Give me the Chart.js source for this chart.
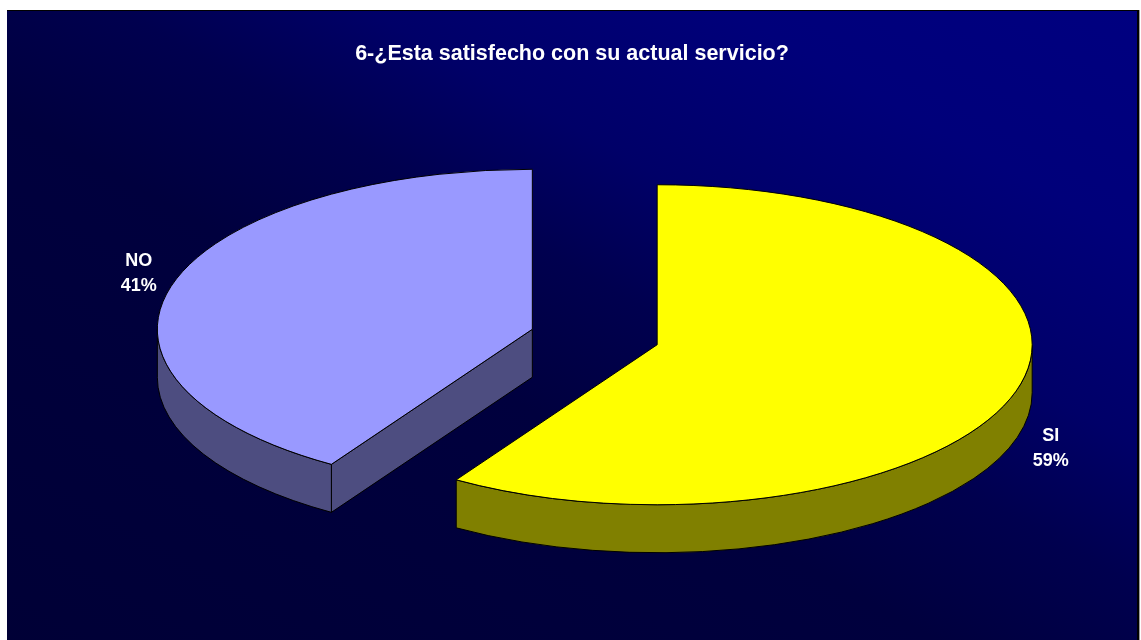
<!DOCTYPE html>
<html>
<head>
<meta charset="utf-8">
<title>Satisfacción con el servicio</title>
<script src="https://cdn.jsdelivr.net/npm/chart.js@4.4.0/dist/chart.umd.min.js"></script>
<style>
  html, body { margin: 0; padding: 0; background: #fff; overflow: hidden; }
  #frame {
    position: absolute;
    left: 7px;
    top: 10px;
    width: 1130px;
    height: 640px;
    border-top: 1px solid #000;
    border-right: 2px solid #000;
    box-shadow: 1px 0 0 #9a9a9a;
    background: linear-gradient(to bottom left,
      #000080 0%, #00007a 18%, #000068 34%, #00004f 45%, #00003e 58%, #000036 100%);
  }
</style>
</head>
<body>
<div id="frame"><canvas id="chart"></canvas></div>
<script>
// Survey answers
const labels = ['SI', 'NO'];
const values = [59, 41];
const topColors = ['#ffff00', '#9999ff'];
const sideColors = ['#808000', '#4d4d80'];

// Where the tilted pie sits on the canvas
const PIE = { cx: 587.75, cy: 326, rx: 375, ry: 160, depth: 48, explode: 65 };

function frontRanges(a, b) {
  // parts of [a, b] on the near half of the ellipse (sin > 0)
  const out = [];
  for (const base of [0, 2 * Math.PI]) {
    const lo = Math.max(a, base), hi = Math.min(b, base + Math.PI);
    if (hi > lo) out.push([lo, hi]);
  }
  return out;
}

const pie3d = {
  id: 'pie3d',
  beforeDatasetsDraw(chart) {
    const ctx = chart.ctx;
    const arcs = chart.getDatasetMeta(0).data;
    const ds = chart.data.datasets[0];
    const { rx, ry, depth: D } = PIE;

    const order = arcs.map((a, i) => i).sort((i, j) => {
      const mi = (arcs[i].startAngle + arcs[i].endAngle) / 2;
      const mj = (arcs[j].startAngle + arcs[j].endAngle) / 2;
      return Math.sin(mi) - Math.sin(mj);
    });

    ctx.save();
    ctx.lineWidth = 1;
    ctx.strokeStyle = '#000';
    ctx.lineJoin = 'round';

    order.forEach(i => {
      const arc = arcs[i];
      const s = arc.startAngle, e = arc.endAngle;
      const mid = (s + e) / 2;
      const cx = PIE.cx + Math.cos(mid) * PIE.explode;
      const cy = PIE.cy + Math.sin(mid) * PIE.explode * ry / rx;
      const rim = t => [cx + rx * Math.cos(t), cy + ry * Math.sin(t)];

      ctx.fillStyle = sideColors[i];

      // cut faces that turn towards the viewer
      const faces = [];
      if (Math.cos(s) < -1e-6) faces.push(s);
      if (Math.cos(e) > 1e-6) faces.push(e);
      faces.forEach(t => {
        const [px, py] = rim(t);
        ctx.beginPath();
        ctx.moveTo(cx, cy);
        ctx.lineTo(px, py);
        ctx.lineTo(px, py + D);
        ctx.lineTo(cx, cy + D);
        ctx.closePath();
        ctx.fill();
        ctx.stroke();
      });

      // outer wall
      frontRanges(s, e).forEach(([a, b]) => {
        const [bx, by] = rim(b);
        ctx.beginPath();
        ctx.ellipse(cx, cy, rx, ry, 0, a, b, false);
        ctx.lineTo(bx, by + D);
        ctx.ellipse(cx, cy + D, rx, ry, 0, b, a, true);
        ctx.closePath();
        ctx.fill();
        ctx.stroke();
      });

      // top face: the library's own arc, squashed into an ellipse
      ctx.save();
      ctx.translate(cx, cy);
      ctx.scale(rx / arc.outerRadius, ry / arc.outerRadius);
      ctx.translate(-arc.x, -arc.y);
      arc.draw(ctx);
      ctx.restore();

      const [sx, sy] = rim(s);
      ctx.beginPath();
      ctx.moveTo(cx, cy);
      ctx.lineTo(sx, sy);
      ctx.ellipse(cx, cy, rx, ry, 0, s, e, false);
      ctx.closePath();
      ctx.stroke();

      // data label
      let lx = cx + Math.cos(mid) * rx * 1.093;
      let ly = cy + Math.sin(mid) * ry * 1.243;
      if (Math.sin(mid) > 0) ly += D;
      ctx.fillStyle = '#fff';
      ctx.font = 'bold 18px Arial, "Liberation Sans", sans-serif';
      ctx.textAlign = 'center';
      ctx.textBaseline = 'middle';
      ctx.fillText(chart.data.labels[i], lx, ly - 12.5);
      ctx.fillText(ds.data[i] + '%', lx, ly + 12.5);
    });

    ctx.restore();
    return false;
  }
};

new Chart(document.getElementById('chart'), {
  type: 'pie',
  data: {
    labels: labels,
    datasets: [{
      data: values,
      backgroundColor: topColors,
      borderWidth: 0,
      offset: 0
    }]
  },
  options: {
    responsive: true,
    maintainAspectRatio: false,
    animation: false,
    plugins: {
      legend: { display: false },
      tooltip: { enabled: false },
      title: {
        display: true,
        text: '6-¿Esta satisfecho con su actual servicio?',
        color: '#fff',
        font: { family: 'Arial, "Liberation Sans", sans-serif', size: 21.5, weight: 'bold' },
        padding: { top: 30, bottom: 10 }
      }
    }
  },
  plugins: [pie3d]
});
</script>
</body>
</html>
